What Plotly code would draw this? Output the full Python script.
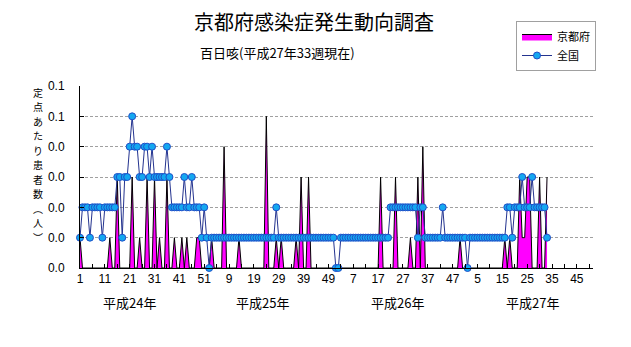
import plotly.graph_objects as go

# ---------------- data ----------------
# Kyoto (per-sentinel) weekly values, H24..H27
kyoto_h24 = [0.01, 0, 0, 0, 0, 0, 0, 0, 0, 0,
             0, 0, 0.01, 0, 0, 0.03, 0, 0, 0, 0,
             0, 0.03, 0, 0, 0.01, 0, 0, 0.03, 0, 0,
             0.03, 0, 0.01, 0, 0, 0.03, 0, 0, 0.01, 0,
             0, 0.01, 0, 0.01, 0, 0, 0, 0.01, 0.01, 0,
             0, 0]
kyoto_h25 = [0, 0.01, 0, 0, 0, 0, 0.04, 0, 0, 0,
             0, 0, 0.01, 0, 0, 0, 0, 0, 0, 0,
             0, 0, 0, 0.05, 0, 0, 0, 0.01, 0, 0.01,
             0, 0, 0, 0, 0, 0.01, 0, 0.03, 0, 0,
             0.03, 0, 0, 0, 0, 0, 0, 0, 0, 0,
             0, 0]
kyoto_h26 = [0, 0, 0, 0, 0, 0, 0, 0, 0, 0,
             0, 0, 0, 0, 0, 0, 0, 0.03, 0, 0,
             0, 0, 0, 0.03, 0, 0, 0, 0, 0, 0.01,
             0, 0, 0.03, 0, 0.04, 0, 0, 0, 0, 0,
             0, 0, 0, 0, 0, 0, 0, 0, 0, 0.01,
             0, 0]
kyoto_h27 = [0, 0, 0, 0, 0, 0, 0, 0, 0, 0,
             0, 0, 0, 0, 0, 0.01, 0, 0.01, 0, 0,
             0, 0.03, 0.01, 0.01, 0.03, 0.03, 0, 0, 0, 0.03,
             0, 0, 0.03]

# National weekly values
national_h24 = [0.01, 0.02, 0.02, 0.02, 0.01, 0.02, 0.02, 0.02, 0.02, 0.01,
                0.02, 0.02, 0.02, 0.02, 0.02, 0.03, 0.03, 0.01, 0.03, 0.03,
                0.04, 0.05, 0.04, 0.04, 0.03, 0.03, 0.04, 0.04, 0.03, 0.04,
                0.03, 0.03, 0.03, 0.03, 0.03, 0.04, 0.03, 0.02, 0.02, 0.02,
                0.02, 0.02, 0.03, 0.02, 0.02, 0.03, 0.02, 0.02, 0.02, 0.01,
                0.02, 0.01]
national_h25 = [0, 0.01, 0.01, 0.01, 0.01, 0.01, 0.01, 0.01, 0.01, 0.01,
                0.01, 0.01, 0.01, 0.01, 0.01, 0.01, 0.01, 0.01, 0.01, 0.01,
                0.01, 0.01, 0.01, 0.01, 0.01, 0.01, 0.01, 0.02, 0.01, 0.01,
                0.01, 0.01, 0.01, 0.01, 0.01, 0.01, 0.01, 0.01, 0.01, 0.01,
                0.01, 0.01, 0.01, 0.01, 0.01, 0.01, 0.01, 0.01, 0.01, 0.01,
                0.01, 0]
national_h26 = [0, 0.01, 0.01, 0.01, 0.01, 0.01, 0.01, 0.01, 0.01, 0.01,
                0.01, 0.01, 0.01, 0.01, 0.01, 0.01, 0.01, 0.01, 0.01, 0.01,
                0.01, 0.02, 0.02, 0.02, 0.02, 0.02, 0.02, 0.02, 0.02, 0.02,
                0.02, 0.02, 0.01, 0.02, 0.02, 0.01, 0.01, 0.01, 0.01, 0.01,
                0.01, 0.01, 0.02, 0.01, 0.01, 0.01, 0.01, 0.01, 0.01, 0.01,
                0.01, 0.01]
national_h27 = [0, 0.01, 0.01, 0.01, 0.01, 0.01, 0.01, 0.01, 0.01, 0.01,
                0.01, 0.01, 0.01, 0.01, 0.01, 0.01, 0.02, 0.02, 0.01, 0.02,
                0.02, 0.02, 0.03, 0.02, 0.02, 0.02, 0.03, 0.02, 0.02, 0.02,
                0.02, 0.02, 0.01]

weeks_per_year = [52, 52, 52, 52]
year_labels = ["平成24年", "平成25年", "平成26年", "平成27年"]
x_tick_labels = ["1", "11", "21", "31", "41", "51",
                 "9", "19", "29", "39", "49",
                 "7", "17", "27", "37", "47",
                 "5", "15", "25", "35", "45"]
y_tick_values = [0, 0.01, 0.02, 0.03, 0.04, 0.05, 0.06]
y_tick_labels = ["0.0", "0.0", "0.0", "0.0", "0.0", "0.1", "0.1"]

title_text = "京都府感染症発生動向調査"
subtitle_text = "百日咳(平成27年33週現在)"
ytitle_chars = ["定", "点", "あ", "た", "り", "患", "者", "数", "︵", "人", "︶"]

# ---------------- build ----------------
kyoto = kyoto_h24 + kyoto_h25 + kyoto_h26 + kyoto_h27
national = national_h24 + national_h25 + national_h26 + national_h27
xs = list(range(len(kyoto)))
n_total = sum(weeks_per_year)

W, H = 631, 347
L, R, T, B = 80, 38, 86, 79
PW, PH = W - L - R, H - T - B


def px_x(px):
    return (px - L) / PW


def px_y(py):
    return (H - B - py) / PH


CJK = "Noto Sans CJK JP"
NUM = "Liberation Sans Narrow, Arial Narrow, Liberation Sans, Arial"

fig = go.Figure()
fig.add_trace(go.Scatter(
    x=xs, y=kyoto, name="京都府", mode="lines",
    line=dict(color="black", width=1),
    fill="tozeroy", fillcolor="#FF00FF",
    hoverinfo="skip",
))
fig.add_trace(go.Scatter(
    x=xs, y=national, name="全国", mode="lines+markers",
    line=dict(color="#24338F", width=1),
    marker=dict(symbol="circle", size=7, color="#14A8F0",
                line=dict(color="#1F4FC8", width=1)),
    cliponaxis=False, hoverinfo="skip",
))

tickvals = list(range(0, n_total - 1, 5))
ticktext = []
for i, v in enumerate(tickvals):
    ticktext.append(x_tick_labels[i // 2] if i % 2 == 0 and i // 2 < len(x_tick_labels) else "")

fig.update_xaxes(
    range=[0, 206.5], tickmode="array", tickvals=tickvals, ticktext=ticktext,
    ticks="inside", ticklen=4, tickcolor="black", tickwidth=1,
    showline=True, linecolor="black", linewidth=1,
    showgrid=False, zeroline=False,
    tickfont=dict(family=NUM, size=12, color="black"),
)
fig.update_yaxes(
    range=[0, 0.06], tickmode="array", tickvals=y_tick_values, ticktext=y_tick_labels,
    ticks="inside", ticklen=4, tickcolor="black", tickwidth=1,
    showline=True, linecolor="black", linewidth=1,
    showgrid=True, gridcolor="#A0A0A0", gridwidth=1, griddash="3px,2px",
    zeroline=False, ticklabelstandoff=12,
    tickfont=dict(family=NUM, size=12, color="black"),
)

annotations = [
    dict(text=title_text, x=px_x(314), y=px_y(22), xref="paper", yref="paper",
         showarrow=False, xanchor="center", yanchor="middle",
         font=dict(family=CJK, size=20, color="black")),
    dict(text=subtitle_text, x=px_x(277), y=px_y(53), xref="paper", yref="paper",
         showarrow=False, xanchor="center", yanchor="middle",
         font=dict(family=CJK, size=13, color="black")),
]
for lbl, cx in zip(year_labels, [129, 262, 397, 532]):
    annotations.append(dict(text=lbl, x=px_x(cx), y=px_y(302), xref="paper", yref="paper",
                            showarrow=False, xanchor="center", yanchor="middle",
                            font=dict(family=CJK, size=13, color="black")))
for i, ch in enumerate(ytitle_chars):
    annotations.append(dict(text=ch, x=px_x(38), y=px_y(92 + 14.5 * i),
                            xref="paper", yref="paper", showarrow=False,
                            xanchor="center", yanchor="middle", borderpad=0,
                            font=dict(family=CJK, size=10, color="black")))

fig.update_layout(
    width=W, height=H,
    margin=dict(l=L, r=R, t=T, b=B, autoexpand=False),
    paper_bgcolor="white", plot_bgcolor="white",
    showlegend=True,
    legend=dict(x=px_x(516), y=px_y(21), xanchor="left", yanchor="top",
                bgcolor="white", bordercolor="#A0A0A0", borderwidth=1,
                font=dict(family=CJK, size=11, color="black"),
                itemwidth=30, tracegroupgap=0),
    annotations=annotations,
)

fig.write_html("out.html", config={"displayModeBar": False})
